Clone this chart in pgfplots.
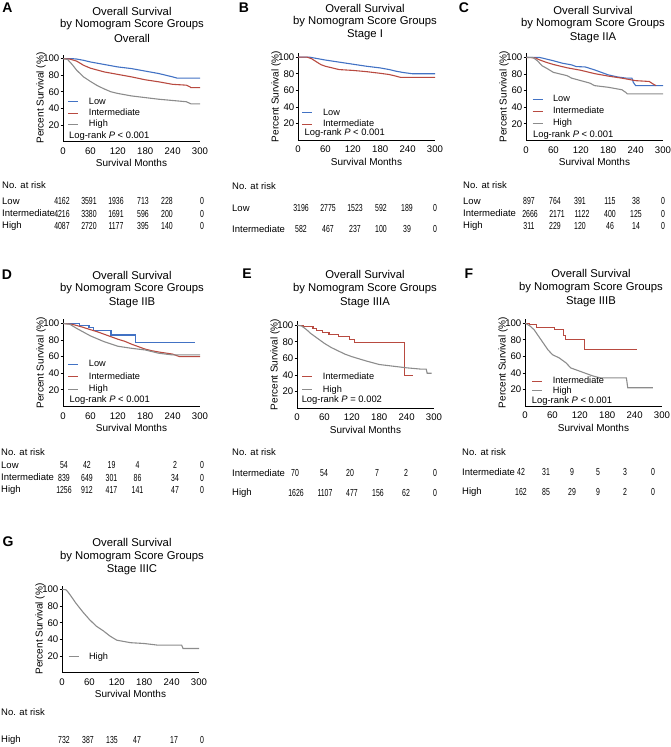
\documentclass[border=0pt]{standalone}
\usepackage{fontspec}
\setmainfont{Liberation Sans}
\newfontfamily\numfont[FakeStretch=0.68]{Liberation Sans}
\usepackage{pgfplots}
\pgfplotsset{compat=1.18}
\definecolor{cLow}{RGB}{66,114,196}
\definecolor{cInt}{RGB}{184,74,64}
\definecolor{cHigh}{RGB}{140,140,140}
\pgfplotsset{km/.style={
  scale only axis, width=137pt, height=87pt,
  xmin=0, xmax=300, ymin=0, ymax=105,
  xtick={0,60,...,300}, ytick={20,40,...,100},
  axis x line*=bottom, axis y line*=left,
  axis line style={-, line width=0.9pt, black},
  x axis line style={-}, y axis line style={-},
  tick align=outside, major tick length=2.5pt,
  xtick style={draw=none}, ytick style={black, line width=0.6pt},
  tick label style={font=\fontsize{9.6}{11}\selectfont},
  yticklabel style={inner xsep=1pt},
  /pgf/number format/assume math mode=true,
  xlabel={Survival Months}, ylabel={Percent Survival (\%)},
  label style={font=\fontsize{10.5}{12}\selectfont},
  every axis x label/.style={at={(rel axis cs:0.5,0)}, yshift=-21.5pt, anchor=center},
  every axis y label/.style={at={(rel axis cs:0,0.5)}, xshift=-22pt, rotate=90, anchor=center},
  legend cell align=left,
  legend style={draw=none, fill=none, inner sep=0pt, outer sep=0pt, anchor=north west,
    font=\fontsize{9.2}{11}\selectfont,
    nodes={inner xsep=0pt, inner ysep=1.3pt, text height=6.8pt, text depth=1.9pt}, row sep=0pt},
  legend image code/.code={\draw[#1, line width=1pt] (0pt,0pt) -- (10pt,0pt); \path (20pt,0pt);},
  every axis plot/.append style={line width=1.1pt, no marks},
}}
\newcommand{\lr}[3]{\node[anchor=west, inner sep=0pt, font=\fontsize{9.4}{11}\selectfont] at (axis cs:#1,#2) {#3};}
\newcommand{\ttl}[5]{%
  \node[font=\fontsize{11.3}{14}\selectfont, inner sep=0pt] at (#1pt,-#2pt) {Overall Survival};
  \node[font=\fontsize{11.3}{14}\selectfont, inner sep=0pt] at (#1pt,-#3pt) {by Nomogram Score Groups};
  \node[font=\fontsize{11.3}{14}\selectfont, inner sep=0pt] at (#1pt,-#4pt) {#5};}
\newcommand{\rowlab}[3]{\node[anchor=west, inner sep=0pt, font=\fontsize{9.5}{11}\selectfont] at (#1pt,-#2pt) {#3};}
\newcommand{\num}[3]{\node[inner sep=0pt, font=\numfont\fontsize{10.2}{11}\selectfont] at (#1pt,-#2pt) {#3};}
\begin{document}
\begin{tikzpicture}
\useasboundingbox (0,0) rectangle (671pt,-747pt);
\tikzset{lett/.style={font=\fontsize{14}{16}\selectfont\bfseries, inner sep=0pt}}
% ---------------- Panel A
\node[lett] at (7.5pt,-8pt) {A};
\ttl{132}{11}{25}{38}{Overall}
\begin{axis}[km, at={(63pt,-141.5pt)}, anchor=south west, legend style={at={(0.036,0.522)}}]
\addplot[cLow] coordinates {(0,100)(20,100)(30,99.5)(45,98)(60,96)(90,93)(120,90)(150,88)(180,85)(210,82)(240,78)(250,76.5)(300,76.5)};
\addplot[cInt] coordinates {(0,100)(15,99.5)(30,97)(45,92)(60,88.5)(90,84)(120,81)(150,78)(180,74.5)(210,72)(240,69)(270,68)(278,66)(280,65)(300,65)};
\addplot[cHigh] coordinates {(0,100)(10,99)(20,93)(30,86)(45,78)(60,72.5)(75,67.5)(90,63.5)(105,60)(120,58)(150,55)(180,53)(210,51)(240,49.5)(270,48)(280,45.5)(300,45.5)};
\legend{Low,Intermediate,High}
\lr{13}{7}{Log-rank \textit{P} < 0.001}
\end{axis}
\rowlab{2}{185}{No. at risk}
\rowlab{2}{201}{Low}\rowlab{2}{213.5}{Intermediate}\rowlab{2}{226}{High}
\foreach \xx/\v in {62/4162,89/3591,116/1936,143/713,167/228,202/0} {\num{\xx}{201}{\v}}
\foreach \xx/\v in {62/4216,89/3380,116/1691,143/596,167/200,202/0} {\num{\xx}{213.5}{\v}}
\foreach \xx/\v in {62/4087,89/2720,116/1177,143/395,167/140,202/0} {\num{\xx}{226}{\v}}
% ---------------- Panel B
\node[lett] at (244pt,-7.5pt) {B};
\ttl{365}{8}{22}{35}{Stage I}
\begin{axis}[km, at={(298pt,-140pt)}, anchor=south west, legend style={at={(0.029,0.376)}}]
\addplot[cLow] coordinates {(0,100)(25,100)(40,98.5)(60,96.5)(90,94)(120,91.5)(150,89)(180,87)(200,85)(215,83)(230,81.5)(250,80)(300,80)};
\addplot[cInt] coordinates {(0,100)(20,100)(30,98)(40,94.5)(50,91)(60,89)(75,87)(90,85)(120,84)(150,82.5)(180,80.5)(200,79)(215,77)(225,75.5)(300,75.5)};
\legend{Low,Intermediate}
\lr{14}{7.8}{Log-rank \textit{P} < 0.001}
\end{axis}
\rowlab{232}{186}{No. at risk}
\rowlab{232}{208}{Low}\rowlab{232}{229}{Intermediate}
\foreach \xx/\v in {301/3196,328/2775,355/1523,381/592,407/189,435/0} {\num{\xx}{208}{\v}}
\foreach \xx/\v in {301/582,328/467,355/237,381/100,407/39,435/0} {\num{\xx}{229}{\v}}
% ---------------- Panel C
\node[lett] at (464pt,-8pt) {C};
\ttl{593}{10}{24}{38}{Stage IIA}
\begin{axis}[km, at={(526pt,-140.3pt)}, anchor=south west, legend style={at={(0.044,0.536)}, row sep=0.7pt}]
\addplot[cLow] coordinates {(0,100)(30,100)(45,98)(60,96)(80,93)(100,91)(110,89)(130,88.5)(150,85)(165,82)(180,79)(200,76.5)(220,75)(232,75)(235,70)(240,66)(300,66)};
\addplot[cInt] coordinates {(0,100)(20,99.5)(30,97)(45,94)(60,91.5)(90,87.5)(120,84.5)(150,80.5)(180,77.5)(210,75)(240,72)(270,71)(278,68)(285,66)};
\addplot[cHigh] coordinates {(0,100)(15,100)(25,96)(35,90)(45,87)(60,82)(90,78)(100,75)(120,72)(140,69)(150,66)(180,64)(210,61)(218,58)(222,56)(300,56)};
\legend{Low,Intermediate,High}
\lr{15}{6.4}{Log-rank \textit{P} < 0.001}
\end{axis}
\rowlab{463}{185}{No. at risk}
\rowlab{463}{201}{Low}\rowlab{463}{213.5}{Intermediate}\rowlab{463}{226}{High}
\foreach \xx/\v in {529/897,555/764,580/391,610/115,636/38,663/0} {\num{\xx}{201}{\v}}
\foreach \xx/\v in {530/2666,557/2171,582/1122,610/400,636/125,663/0} {\num{\xx}{213.5}{\v}}
\foreach \xx/\v in {529/311,555/229,580/120,610/46,636/14,663/0} {\num{\xx}{226}{\v}}
% ---------------- Panel D
\node[lett] at (7pt,-275pt) {D};
\ttl{132}{275}{289}{303}{Stage IIB}
\begin{axis}[km, at={(63pt,-406.3pt)}, anchor=south west, legend style={at={(0.036,0.548)}, row sep=1.2pt}]
\addplot[cLow, const plot] coordinates {(0,100)(37,97)(57,95)(67,91)(105,86)(158,77)(290,77)};
\addplot[cInt] coordinates {(0,100)(20,99)(40,96)(60,92.5)(75,90)(90,87)(105,84)(120,81)(135,78.5)(150,75)(165,72)(180,69)(195,67)(210,65.5)(240,63)(255,60)(300,60)};
\addplot[cHigh] coordinates {(0,100)(15,99)(30,94)(45,89.5)(60,85)(90,78)(120,72.5)(150,70)(180,68)(210,64)(240,62)(300,62)};
\legend{Low,Intermediate,High}
\lr{14}{7.6}{Log-rank \textit{P} < 0.001}
\end{axis}
\rowlab{1}{452}{No. at risk}
\rowlab{1}{465}{Low}\rowlab{1}{477.5}{Intermediate}\rowlab{1}{490}{High}
\foreach \xx/\v in {64/54,87/42,111.5/19,137.5/4,175/2,202/0} {\num{\xx}{465}{\v}}
\foreach \xx/\v in {64/839,87/649,111.5/301,137.5/86,175/34,202/0} {\num{\xx}{477.5}{\v}}
\foreach \xx/\v in {64/1256,87/912,111.5/417,137.5/141,175/47,202/0} {\num{\xx}{490}{\v}}
% ---------------- Panel E
\node[lett] at (247pt,-274pt) {E};
\ttl{365}{274}{289}{303}{Stage IIIA}
\begin{axis}[km, at={(297pt,-408pt)}, anchor=south west, legend style={at={(0.036,0.425)}, row sep=1.7pt}]
\addplot[cInt, const plot] coordinates {(0,100)(15,98)(35,96)(42,93)(55,91)(70,89)(90,86.5)(115,83)(125,79)(235,39)(255,39)};
\addplot[cHigh] coordinates {(0,100)(10,99)(20,95)(30,90)(45,84)(60,78)(75,73)(90,69)(105,65)(120,62)(150,57)(180,52.5)(210,50.5)(240,48.5)(270,47)(283,47)(285,42)(295,42)};
\legend{Intermediate,High}
\lr{10}{9.6}{Log-rank \textit{P} = 0.002}
\end{axis}
\rowlab{232}{452}{No. at risk}
\rowlab{232}{473}{Intermediate}\rowlab{232}{493}{High}
\foreach \xx/\v in {295/70,324/54,350/20,377/7,406/2,435/0} {\num{\xx}{473}{\v}}
\foreach \xx/\v in {296/1626,325/1107,352/477,378/156,406/62,435/0} {\num{\xx}{493}{\v}}
% ---------------- Panel F
\node[lett] at (469pt,-274pt) {F};
\ttl{591}{273}{288}{302}{Stage IIIB}
\begin{axis}[km, at={(525pt,-406pt)}, anchor=south west, legend style={at={(0.05,0.35)}, row sep=-1.6pt}]
\addplot[cInt, const plot] coordinates {(0,100)(10,98)(25,95)(65,92)(85,85)(88,80)(130,68)(245,68)};
\addplot[cHigh] coordinates {(0,100)(10,97)(20,92)(30,84)(40,76)(50,68)(60,62)(75,58)(90,52)(100,46)(115,43)(130,40)(150,36)(165,34)(222,34)(225,22)(280,22)};
\legend{Intermediate,High}
\lr{14.7}{6.2}{Log-rank \textit{P} < 0.001}
\end{axis}
\rowlab{462}{452}{No. at risk}
\rowlab{462}{472}{Intermediate}\rowlab{462}{492}{High}
\foreach \xx/\v in {521/42,546/31,572/9,598/5,625/3,653/0} {\num{\xx}{472}{\v}}
\foreach \xx/\v in {521/162,546/85,572/29,598/9,625/2,653/0} {\num{\xx}{492}{\v}}
% ---------------- Panel G
\node[lett] at (8pt,-542pt) {G};
\ttl{132}{542}{557}{570}{Stage IIIC}
\begin{axis}[km, at={(62pt,-672.5pt)}, anchor=south west, legend style={at={(0.044,0.247)}}]
\addplot[cHigh] coordinates {(0,100)(8,100)(12,98)(20,92)(30,84)(45,73.5)(60,64)(75,56)(90,50.5)(105,44)(120,39)(150,36)(180,35)(210,33)(262,33)(265,29)(300,29)};
\legend{High}
\end{axis}
\rowlab{1}{712}{No. at risk}
\rowlab{1}{740}{High}
\foreach \xx/\v in {64/732,88/387,112/135,137/47,174/17,202/0} {\num{\xx}{740}{\v}}
\end{tikzpicture}
\end{document}
